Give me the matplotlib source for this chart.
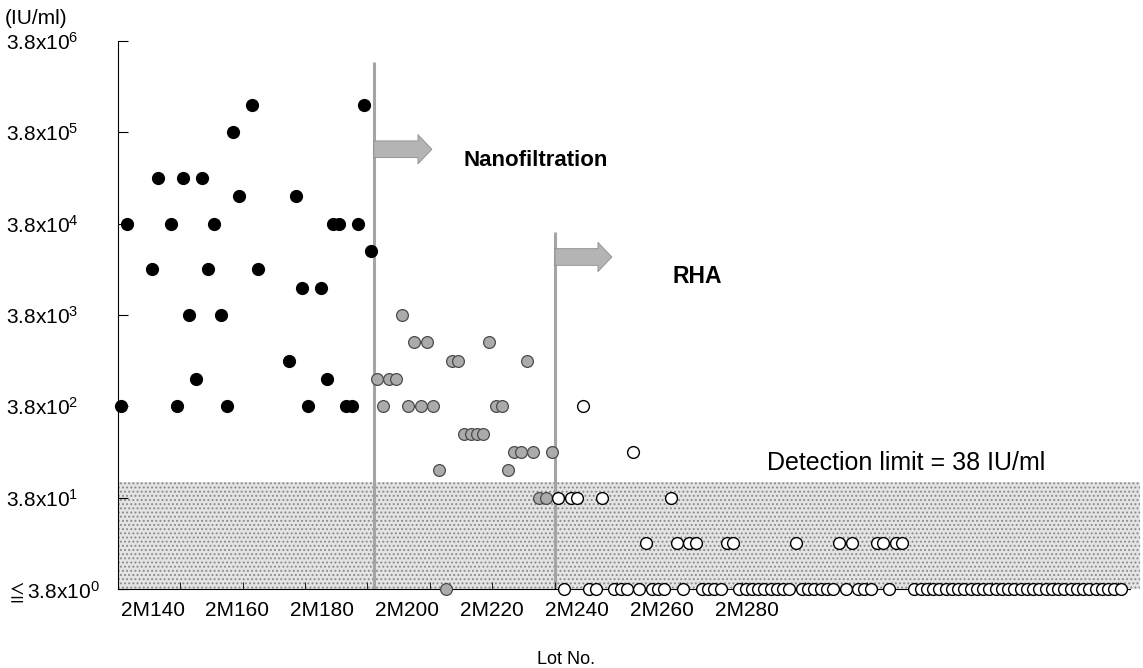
import matplotlib
matplotlib.use("Agg")
import matplotlib.pyplot as plt
from matplotlib.patches import Rectangle

plt.rcParams["font.family"] = ["Liberation Sans", "DejaVu Sans"]
plt.rcParams["mathtext.fontset"] = "custom"
plt.rcParams["mathtext.rm"] = "Liberation Sans"
plt.rcParams["mathtext.it"] = "Liberation Sans"
plt.rcParams["mathtext.fallback"] = "stixsans"
plt.rcParams["hatch.linewidth"] = 0.9

# --- data (lot number, titre in IU/ml) ---
black_lots = [140, 141, 145, 146, 148, 149, 150, 151, 152, 153, 154, 155, 156, 157, 158, 159,
              161, 162, 167, 168, 169, 170, 172, 173, 174, 175, 176, 177, 178, 179, 180]
black_vals = [380, 3.8e4, 1.2e4, 1.2e5, 3.8e4, 380, 1.2e5, 3.8e3, 760, 1.2e5, 1.2e4, 3.8e4, 3.8e3,
              380, 3.8e5, 7.6e4, 7.6e5, 1.2e4, 1.2e3, 7.6e4, 7.6e3, 380, 7.6e3, 760, 3.8e4, 3.8e4,
              380, 380, 3.8e4, 7.6e5, 1.9e4]

gray_lots = [181, 182, 183, 184, 185, 186, 187, 188, 189, 190, 191, 192, 193, 194, 195, 196, 197,
             198, 199, 200, 201, 202, 203, 204, 205, 206, 207, 208, 209]
gray_vals = [760, 380, 760, 760, 3800, 380, 1900, 380, 1900, 380, 76, 3.8, 1200, 1200, 190, 190,
             190, 190, 1900, 380, 380, 76, 120, 120, 1200, 120, 38, 38, 120]

white_lots = [210, 212, 213, 214, 217, 222, 224, 228, 229, 231, 232, 237, 238, 248, 255, 257,
              261, 262, 264, 265]
white_vals = [38, 38, 38, 380, 38, 120, 12, 38, 12, 12, 12, 12, 12, 12, 12, 12, 12, 12, 12, 12]

# lots below the detection limit (plotted on the axis)
floor_lots = ([211, 215, 216, 219, 220, 221, 223, 225, 226, 227, 230, 233, 234, 235, 236]
              + list(range(239, 248)) + list(range(249, 255)) + [256, 258, 259, 260, 263]
              + list(range(267, 301)))
floor_val = 3.8

ytick_vals = [3.8, 38, 380, 3.8e3, 3.8e4, 3.8e5, 3.8e6]
ytick_text = [r"$\leqq$3.8x10$^{0}$", r"3.8x10$^{1}$", r"3.8x10$^{2}$", r"3.8x10$^{3}$",
              r"3.8x10$^{4}$", r"3.8x10$^{5}$", r"3.8x10$^{6}$"]
xtick_text = ["2M140", "2M160", "2M180", "2M200", "2M220", "2M240", "2M260", "2M280"]

detect_top = 56
nano_lot, rha_lot = 180.5, 209.5

W, H = 1143, 668
fig = plt.figure(figsize=(W / 100, H / 100), dpi=100)
ax = fig.add_axes([117.5 / W, 79 / H, (1140 - 117.5) / W, (589 - 41) / H])
ax.set_yscale("log")
ax.set_ylim(3.8, 3.8e6)
ax.set_xlim(139.5, 303.1)

# shaded zone below the detection limit
ax.add_patch(Rectangle((139.5, 3.8), 303.1 - 139.5, detect_top - 3.8, facecolor="#e4e4e4",
                       edgecolor="#8a8a8a", hatch="....", linewidth=0, zorder=0))

# process change lines and arrows
ax.vlines(nano_lot, 3.8, 2.24e6, color="#a4a4a4", lw=2.2, zorder=1)
ax.vlines(rha_lot, 3.8, 3.1e4, color="#a4a4a4", lw=2.2, zorder=1)
arrow = dict(arrowstyle="simple,head_length=10,head_width=21,tail_width=12", mutation_scale=1,
             fc="#b4b4b4", ec="#8c8c8c", lw=0.6, shrinkA=0, shrinkB=0)
ax.annotate("", xy=(189.8, 2.48e5), xytext=(nano_lot, 2.48e5), arrowprops=arrow)
ax.annotate("", xy=(218.6, 1.64e4), xytext=(rha_lot, 1.64e4), arrowprops=arrow)

ax.text(194.8, 1.86e5, "Nanofiltration", fontsize=16, fontweight="bold", va="center")
ax.text(228.3, 1.0e4, "RHA", fontsize=16.5, fontweight="bold", va="center")
ax.text(243.5, 90, "Detection limit = 38 IU/ml", fontsize=18, va="center")

ms = 72
ax.scatter(black_lots, black_vals, s=ms, c="black", zorder=4, clip_on=False)
ax.scatter(gray_lots, gray_vals, s=ms, c="#ababab", edgecolors="#4a4a4a", linewidths=0.9,
           zorder=4, clip_on=False)
ax.scatter(white_lots, white_vals, s=ms, c="white", edgecolors="black", linewidths=1.0,
           zorder=4, clip_on=False)
ax.scatter(floor_lots, [floor_val] * len(floor_lots), s=ms, c="white", edgecolors="black",
           linewidths=1.0, zorder=4, clip_on=False)

# axes styling
for side in ("top", "right"):
    ax.spines[side].set_visible(False)
ax.spines["bottom"].set_bounds(139.5, 301.5)

ax.set_yticks(ytick_vals)
ax.set_yticklabels(ytick_text, fontsize=15)
ax.yaxis.set_minor_locator(matplotlib.ticker.NullLocator())
ax.tick_params(axis="y", direction="in", length=7, pad=80)
for lab in ax.get_yticklabels():
    lab.set_horizontalalignment("left")

xpos = [140 + 13.58 * k for k in range(len(xtick_text))]
ax.set_xticks(xpos)
ax.set_xticklabels(xtick_text, fontsize=15)
for lab in ax.get_xticklabels():
    lab.set_horizontalalignment("left")
ax.set_xticks([149.5 + 10 * k for k in range(16)], minor=True)
ax.tick_params(axis="x", which="major", length=0, pad=9)
ax.tick_params(axis="x", which="minor", direction="in", length=5)

fig.text(5 / W, 1 - 18 / H, "(IU/ml)", fontsize=15, va="center")
fig.text(566 / W, 1 - 660 / H, "Lot No.", fontsize=13, ha="center", va="center")

fig.savefig("out.png", dpi=100)
